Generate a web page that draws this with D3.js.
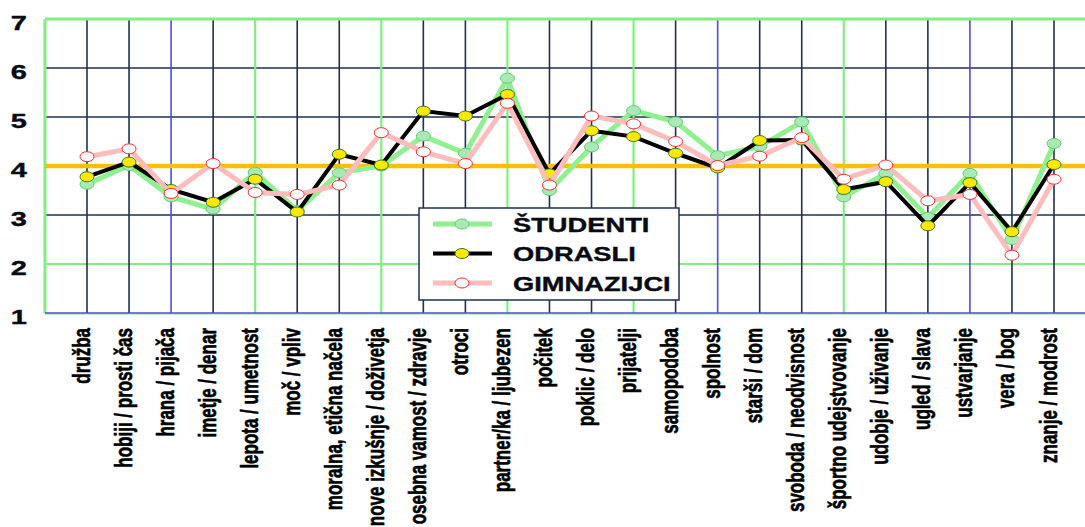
<!DOCTYPE html>
<html>
<head>
<meta charset="utf-8">
<script src="https://cdn.jsdelivr.net/npm/d3@7/dist/d3.min.js"></script>
<style>
  html, body { margin: 0; padding: 0; background: #ffffff; }
  svg { display: block; }
</style>
</head>
<body>
<svg id="chart" width="1085" height="527"></svg>
<script>
// Value categories on the x axis
const categories = [
  "družba", "hobiji / prosti čas", "hrana / pijača", "imetje / denar",
  "lepota / umetnost", "moč / vpliv", "moralna, etična načela",
  "nove izkušnje / doživetja", "osebna vamost / zdravje", "otroci",
  "partner/ka / ljubezen", "počitek", "poklic / delo", "prijatelji",
  "samopodoba", "spolnost", "starši / dom", "svoboda / neodvisnost",
  "športno udejstvovanje", "udobje / uživanje", "ugled / slava",
  "ustvarjanje", "vera / bog", "znanje / modrost"
];

// Average ratings per group
const studenti = [3.63, 4.01, 3.37, 3.12, 3.87, 3.09, 3.86, 4.00, 4.61, 4.26, 5.79, 3.50,
                  4.39, 5.13, 4.90, 4.21, 4.40, 4.90, 3.37, 3.85, 2.95, 3.85, 2.50, 4.46];
const odrasli = [3.78, 4.08, 3.52, 3.26, 3.73, 3.06, 4.24, 4.02, 5.12, 5.02, 5.46, 3.84,
                 4.72, 4.60, 4.26, 3.96, 4.52, 4.53, 3.52, 3.68, 2.78, 3.66, 2.66, 4.03];
const gimnazijci = [4.19, 4.35, 3.44, 4.05, 3.46, 3.42, 3.61, 4.68, 4.29, 4.05, 5.28, 3.61,
                    5.02, 4.86, 4.50, 4.01, 4.20, 4.58, 3.73, 4.02, 3.29, 3.42, 2.18, 3.73];

const seriesNames = ["ŠTUDENTI", "ODRASLI", "GIMNAZIJCI"];
const yTicks = [1, 2, 3, 4, 5, 6, 7];
const referenceValue = 4;

// Tone of each vertical grid line (one per category)
const vGridTone = ["dark", "dark", "blue", "dark", "green", "dark", "dark", "green",
                   "dark", "dark", "green", "dark", "dark", "green", "dark", "blue",
                   "dark", "dark", "green", "dark", "dark", "blue", "dark", "dark"];
// Tone of each horizontal grid line (by tick value)
const hGridTone = { 2: "green", 3: "dark", 5: "dark", 6: "dark" };

const toneColor = { dark: "#1d3050", green: "#7ff07f", blue: "#4b4de0" };
const toneWidth = { dark: 1.6, green: 2.2, blue: 1.6 };

const styles = [
  { line: "#8ff08f", width: 5, fill: "#a9e9b5", stroke: "#5fcf6f" },
  { line: "#000000", width: 4, fill: "#ffe800", stroke: "#3a7a2a" },
  { line: "#ffbcbc", width: 5, fill: "#ffffff", stroke: "#ff2a2a" }
];

const svg = d3.select("#chart");

// The drawing is widened horizontally; glyphs get the same stretch
const stretch = 1.38;
const legendStretch = 1.3;

const x = d3.scalePoint().domain(categories).range([87, 1054]);
const step = x.step();
const plotLeft = x(categories[0]) - step;
const plotRight = x(categories[categories.length - 1]) + step;
const y = d3.scaleLinear().domain([1, 7]).range([313, 19]);

const grid = svg.append("g");

// horizontal grid lines
yTicks.filter(v => hGridTone[v]).forEach(v => {
  const tone = hGridTone[v];
  grid.append("line")
    .attr("x1", plotLeft).attr("x2", plotRight)
    .attr("y1", y(v)).attr("y2", y(v))
    .attr("stroke", toneColor[tone]).attr("stroke-width", toneWidth[tone]);
});

// vertical grid lines at each category
categories.forEach((c, i) => {
  const tone = vGridTone[i];
  grid.append("line")
    .attr("x1", x(c)).attr("x2", x(c))
    .attr("y1", y(7)).attr("y2", y(1))
    .attr("stroke", toneColor[tone]).attr("stroke-width", toneWidth[tone]);
});

// plot frame: green top and left, blue base line
grid.append("line")
  .attr("x1", plotLeft).attr("x2", plotRight).attr("y1", y(7)).attr("y2", y(7))
  .attr("stroke", "#7ff07f").attr("stroke-width", 3);
grid.append("line")
  .attr("x1", plotLeft).attr("x2", plotLeft).attr("y1", y(7)).attr("y2", y(1))
  .attr("stroke", "#7ff07f").attr("stroke-width", 3);
grid.append("line")
  .attr("x1", plotLeft).attr("x2", plotRight).attr("y1", y(1) + 1).attr("y2", y(1) + 1)
  .attr("stroke", "#a8f0a8").attr("stroke-width", 1.5);
grid.append("line")
  .attr("x1", plotLeft).attr("x2", plotRight).attr("y1", y(1)).attr("y2", y(1))
  .attr("stroke", "#4b4de0").attr("stroke-width", 1.6);

// reference line at the scale midpoint
svg.append("line")
  .attr("x1", plotLeft).attr("x2", plotRight)
  .attr("y1", y(referenceValue)).attr("y2", y(referenceValue))
  .attr("stroke", "#ffbf00").attr("stroke-width", 4.5);

// y tick labels
const yAxis = d3.axisLeft(y).tickValues(yTicks).tickSize(0).tickFormat(d3.format("d"));
const yg = svg.append("g").attr("transform", `translate(${plotLeft},0)`).call(yAxis);
yg.select(".domain").remove();
yg.selectAll(".tick text")
  .attr("x", 0).attr("dy", null)
  .attr("text-anchor", "end")
  .attr("font-family", "'Liberation Sans', Arial, sans-serif")
  .attr("font-weight", "bold")
  .attr("font-size", 21)
  .attr("fill", "#0a0a14")
  .attr("stroke", "#0a0a14").attr("stroke-width", 0.4)
  .attr("transform", `translate(-18, 10) scale(${stretch},1)`);

// category labels, rotated, reading upwards
const xAxis = d3.axisBottom(x).tickSize(0);
const xg = svg.append("g").attr("transform", `translate(0,${y(1)})`).call(xAxis);
xg.select(".domain").remove();
xg.selectAll(".tick text")
  .attr("x", 0).attr("y", 0).attr("dy", null)
  .attr("text-anchor", "end")
  .attr("font-family", "'Liberation Sans Narrow', 'Liberation Sans', Arial, sans-serif")
  .attr("font-weight", "bold")
  .attr("font-size", 17)
  .attr("fill", "#000000")
  .attr("stroke", "#000000").attr("stroke-width", 0.45)
  .attr("transform", `translate(2,15) rotate(-90) scale(1,${stretch})`);

// series lines and markers
const seriesData = [studenti, odrasli, gimnazijci];
const line = d3.line().x((d, i) => x(categories[i])).y(d => y(d));

seriesData.forEach((vals, s) => {
  const st = styles[s];
  const g = svg.append("g");
  g.append("path")
    .datum(vals)
    .attr("d", line)
    .attr("fill", "none")
    .attr("stroke", st.line)
    .attr("stroke-width", st.width)
    .attr("stroke-linejoin", "miter");
  g.selectAll("ellipse")
    .data(vals)
    .join("ellipse")
    .attr("cx", (d, i) => x(categories[i]))
    .attr("cy", d => y(d))
    .attr("rx", 7).attr("ry", 5)
    .attr("fill", st.fill)
    .attr("stroke", st.stroke)
    .attr("stroke-width", 1);
});

// legend
const legend = svg.append("g");
legend.append("rect")
  .attr("x", 419).attr("y", 208).attr("width", 260).attr("height", 92)
  .attr("fill", "#ffffff").attr("stroke", "#1d3050").attr("stroke-width", 1.5);

const rowY = d3.scalePoint().domain(seriesNames).range([224, 283]);
seriesNames.forEach((name, s) => {
  const st = styles[s];
  const cy = rowY(name);
  legend.append("line")
    .attr("x1", 433).attr("x2", 492).attr("y1", cy).attr("y2", cy)
    .attr("stroke", st.line).attr("stroke-width", st.width);
  legend.append("ellipse")
    .attr("cx", 462).attr("cy", cy).attr("rx", 7).attr("ry", 5)
    .attr("fill", st.fill).attr("stroke", st.stroke).attr("stroke-width", 1);
  legend.append("text")
    .attr("transform", `translate(513,${cy + 7.5}) scale(${legendStretch},1)`)
    .attr("font-family", "'Liberation Sans', Arial, sans-serif")
    .attr("font-weight", "bold")
    .attr("font-size", 21)
    .attr("fill", "#0a0a14")
    .attr("stroke", "#0a0a14").attr("stroke-width", 0.4)
    .text(name);
});
</script>
</body>
</html>
